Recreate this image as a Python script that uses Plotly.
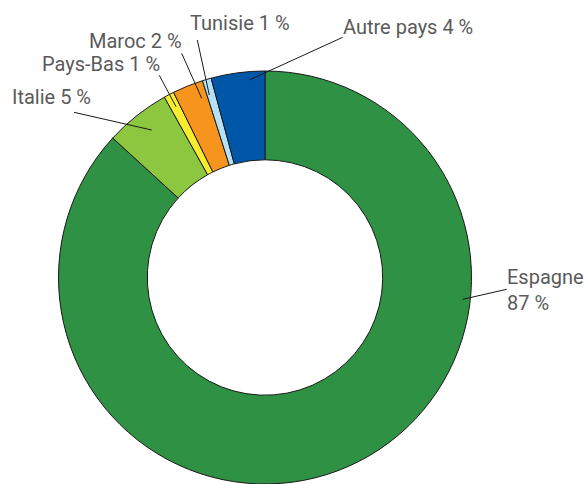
import plotly.graph_objects as go

# Data
countries = ["Espagne", "Italie", "Pays-Bas", "Maroc", "Tunisie", "Autre pays"]
shares = [86.8, 5.1, 0.8, 2.4, 0.7, 4.2]
label_texts = ["Espagne<br>87 %", "Italie 5 %", "Pays-Bas 1 %", "Maroc 2 %", "Tunisie 1 %", "Autre pays 4 %"]
colors = ["#2e9143", "#8dc63f", "#f7ec2e", "#f7941d", "#b5e1f7", "#0057a8"]

W, H = 584, 484
CX, CY, R = 265, 277.5, 206.5

# label layout (pixels): text anchor x, y, xanchor ; leader line (inside point -> outside point)
label_pos = [
    (505, 290, "left"),
    (93, 97, "right"),
    (162, 64, "right"),
    (184, 41, "right"),
    (188, 23, "left"),
    (341, 27, "left"),
]
leaders = [
    ((462.7, 299.3), (506.7, 289.3)),
    ((151.7, 130.0), (74.0, 112.3)),
    ((176.0, 106.7), (159.3, 75.3)),
    ((201.7, 98.3), (181.7, 53.3)),
    ((209.3, 95.0), (197.3, 40.0)),
    ((249.3, 80.0), (342.7, 37.3)),
]

def px(x):
    return x / W

def py(y):
    return 1 - y / H

fig = go.Figure(go.Pie(
    labels=countries,
    values=shares,
    sort=False,
    direction="clockwise",
    rotation=0,
    hole=0.57,
    textinfo="none",
    marker=dict(colors=colors, line=dict(color="#1a1a1a", width=1)),
    domain=dict(x=[px(CX - R), px(CX + R)], y=[max(0, py(CY + R)), py(CY - R)]),
    showlegend=False,
))

font = dict(family="Roboto", size=20, color="#5a5a5a")
annotations = []
for txt, (x, y, xa) in zip(label_texts, label_pos):
    annotations.append(dict(
        x=px(x), y=py(y), xref="paper", yref="paper", text=txt,
        showarrow=False, xanchor=xa, yanchor="middle", align="left", font=font,
    ))
shapes = []
for (a, b) in leaders:
    shapes.append(dict(type="line", xref="paper", yref="paper",
                       x0=px(a[0]), y0=py(a[1]), x1=px(b[0]), y1=py(b[1]),
                       line=dict(color="#1a1a1a", width=1)))

fig.update_layout(
    width=W, height=H,
    margin=dict(l=0, r=0, t=0, b=0),
    paper_bgcolor="white", plot_bgcolor="white",
    annotations=annotations, shapes=shapes,
)

fig.write_html("out.html", config={"displayModeBar": False},
               post_script="document.body.style.margin='0';")
